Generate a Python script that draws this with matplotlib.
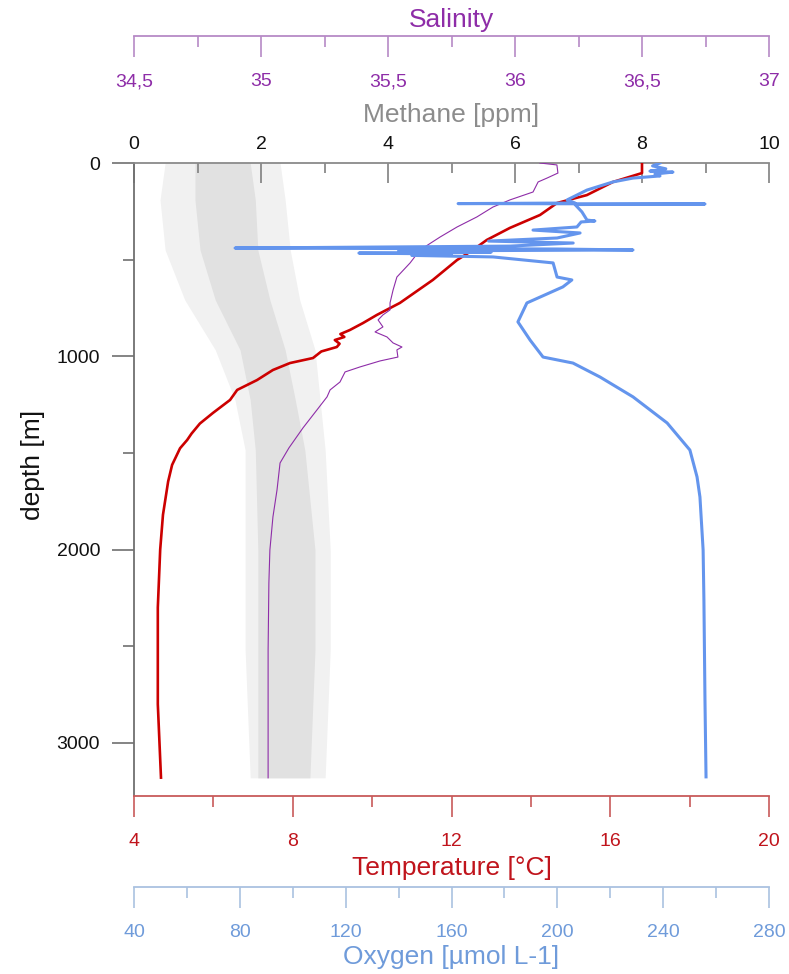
import matplotlib.pyplot as plt
from matplotlib.ticker import MultipleLocator

plt.rcParams['font.family'] = ['Liberation Sans', 'DejaVu Sans']

# --- data (depth in m) ---
temp_depth = [0, 52, 98, 166, 207, 269, 336, 398, 450, 502, 605, 724, 786, 828, 864, 885, 900,
              916, 935, 952, 975, 1009, 1035, 1071, 1123, 1174, 1226, 1293, 1348, 1400, 1433,
              1476, 1562, 1648, 1820, 2000, 2300, 2800, 3180]
temp_vals = [16.80, 16.80, 16.07, 15.41, 14.66, 14.23, 13.47, 12.89, 12.54, 12.14, 11.53, 10.70,
             10.12, 9.77, 9.44, 9.20, 9.30, 9.06, 9.18, 9.11, 8.72, 8.51, 7.93, 7.50, 7.10, 6.60,
             6.42, 5.99, 5.66, 5.45, 5.34, 5.16, 4.96, 4.86, 4.73, 4.66, 4.60, 4.60, 4.68]

sal_depth = [0, 10, 52, 78, 98, 150, 191, 228, 279, 331, 383, 450, 517, 590, 657, 724, 760, 786,
             812, 848, 874, 900, 931, 952, 967, 1004, 1024, 1055, 1081, 1133, 1174, 1210, 1278,
             1371, 1474, 1552, 1692, 1831, 2002, 2173, 2519, 3181]
sal_vals = [36.098, 36.165, 36.169, 36.126, 36.091, 36.071, 35.980, 35.913, 35.850, 35.772,
            35.705, 35.626, 35.587, 35.535, 35.520, 35.508, 35.508, 35.480, 35.461, 35.480,
            35.449, 35.496, 35.520, 35.555, 35.535, 35.539, 35.469, 35.390, 35.331, 35.311,
            35.272, 35.260, 35.220, 35.165, 35.110, 35.075, 35.063, 35.047, 35.035, 35.031,
            35.028, 35.028]

oxy_depth = [0, 15, 30, 42, 47, 57, 67, 78, 98, 140, 191, 207, 210, 212, 215, 253, 295, 300, 305,
             331, 347, 362, 388, 404, 414, 430, 440, 445, 450, 455, 461, 466, 471, 478, 486, 517,
             590, 605, 641, 724, 822, 916, 1004, 1035, 1107, 1210, 1345, 1485, 1624, 1728, 2002,
             2261, 2778, 3176]
oxy_vals = [238.8, 236.0, 241.0, 235.0, 243.7, 236.9, 238.8, 228.6, 221.0, 211.2, 203.7, 206.7,
            162.5, 255.8, 206.7, 209.3, 211.2, 214.2, 209.0, 207.4, 190.8, 208.6, 199.9, 174.0,
            206.0, 182.0, 78.2, 200.0, 228.6, 140.0, 175.0, 125.0, 160.0, 145.0, 175.7, 198.4,
            199.9, 205.5, 202.1, 188.5, 185.1, 189.7, 194.6, 205.9, 216.1, 228.6, 241.5, 250.1,
            252.8, 253.9, 255.1, 255.4, 255.8, 256.2]

# methane signal is very noisy: keep its spread (outer) and dense core
ch4_depth = [0, 191, 450, 709, 967, 1226, 1485, 2002, 2519, 3181]
ch4_outer_lo = [0.49, 0.41, 0.49, 0.80, 1.28, 1.59, 1.75, 1.75, 1.75, 1.83]
ch4_outer_hi = [2.30, 2.38, 2.46, 2.61, 2.85, 2.93, 3.01, 3.09, 3.09, 3.01]
ch4_core_lo = [0.96, 0.96, 1.04, 1.28, 1.67, 1.83, 1.91, 1.95, 1.95, 1.95]
ch4_core_hi = [1.83, 1.91, 1.95, 2.14, 2.38, 2.54, 2.69, 2.85, 2.85, 2.77]

sal_ticks = [34.5, 35, 35.5, 36, 36.5, 37]
sal_labels = ['34,5', '35', '35,5', '36', '36,5', '37']

W, H = 789, 974
x0, x1, y0, y1 = 134, 769, 163, 796


def pt(px):
    return px * 72 / 100


fig = plt.figure(figsize=(W / 100, H / 100), dpi=100)
ax = fig.add_axes([x0 / W, 1 - y1 / H, (x1 - x0) / W, (y1 - y0) / H])

axT = ax.twiny()
axS = ax.twiny()
axO = ax.twiny()

# methane (host axis, top)
ax.fill_betweenx(ch4_depth, ch4_outer_lo, ch4_outer_hi, color='#F1F1F1', lw=0)
ax.fill_betweenx(ch4_depth, ch4_core_lo, ch4_core_hi, color='#E1E1E1', lw=0)
ax.set_xlim(0, 10)
ax.set_ylim(3275, 0)
ax.xaxis.tick_top()
ax.set_xticks(range(0, 11, 2))
ax.xaxis.set_minor_locator(MultipleLocator(1))
ax.tick_params(axis='x', which='major', direction='in', length=pt(20), width=1.2,
               color='#808080', labelsize=14, pad=pt(10), labelcolor='#111111')
ax.tick_params(axis='x', which='minor', direction='in', length=pt(10), width=1.2, color='#808080')
ax.set_yticks([0, 1000, 2000, 3000])
ax.yaxis.set_minor_locator(MultipleLocator(500))
ax.tick_params(axis='y', which='major', direction='out', length=pt(22), width=1.2,
               color='#707070', labelsize=14, pad=pt(12), labelcolor='#111111')
ax.tick_params(axis='y', which='minor', direction='out', length=pt(11), width=1.2, color='#707070')
for s in ['right', 'bottom']:
    ax.spines[s].set_visible(False)
ax.spines['top'].set_color('#8a8a8a')
ax.spines['left'].set_color('#707070')
ax.spines['top'].set_linewidth(1.3)
ax.spines['left'].set_linewidth(1.3)


def bottom_axis(a, color, tcolor, pos):
    for s in ['top', 'left', 'right']:
        a.spines[s].set_visible(False)
    a.spines['bottom'].set_color(color)
    a.spines['bottom'].set_linewidth(1.3)
    a.spines['bottom'].set_position(('axes', pos))
    a.xaxis.set_ticks_position('bottom')
    # baseline-anchored labels so "34,5" and "35" sit on one line
    a.tick_params(axis='x', which='major', direction='out', length=pt(21), width=1.2,
                  color=color, labelsize=14, pad=pt(29), labelcolor=tcolor)
    a.tick_params(axis='x', which='minor', direction='out', length=pt(11), width=1.2, color=color)
    plt.setp(a.get_xticklabels(), va='baseline')


# temperature
axT.plot(temp_vals, temp_depth, color='#CC0000', lw=1.9, zorder=3)
axT.set_xlim(4, 20)
axT.set_xticks([4, 8, 12, 16, 20])
axT.xaxis.set_minor_locator(MultipleLocator(2))
bottom_axis(axT, '#C85A5A', '#C0141C', 0)

# salinity
axS.plot(sal_vals, sal_depth, color='#8E2DA8', lw=0.8, zorder=3)
axS.set_xlim(34.5, 37)
axS.set_xticks(sal_ticks)
axS.set_xticklabels(sal_labels)
axS.xaxis.set_minor_locator(MultipleLocator(0.25))
bottom_axis(axS, '#B68AC6', '#8E2DA8', 1 + (y0 - 36) / (y1 - y0))

# oxygen
axO.plot(oxy_vals, oxy_depth, color='#6495ED', lw=2.2, zorder=3)
axO.set_xlim(40, 280)
axO.set_xticks(range(40, 281, 40))
axO.xaxis.set_minor_locator(MultipleLocator(20))
bottom_axis(axO, '#AAC2E0', '#6F9BDA', -(887 - y1) / (y1 - y0))
axO.set_ylim(3275, 0)

xc = (x0 + x1) / 2 / W
fig.text(xc, 1 - 20 / H, 'Salinity', ha='center', va='center', fontsize=19, color='#8E2DA8')
fig.text(xc, 1 - 115 / H, 'Methane [ppm]', ha='center', va='center', fontsize=19, color='#8C8C8C')
fig.text(xc, 1 - 868 / H, 'Temperature [°C]', ha='center', va='center', fontsize=19, color='#C0141C')
fig.text(xc, 1 - 957 / H, 'Oxygen [µmol L-1]', ha='center', va='center', fontsize=19, color='#6F9BDA')
fig.text(33 / W, 1 - 465 / H, 'depth [m]', ha='center', va='center', rotation=90, fontsize=19,
         color='#111111')

fig.savefig('out.png', dpi=100)
